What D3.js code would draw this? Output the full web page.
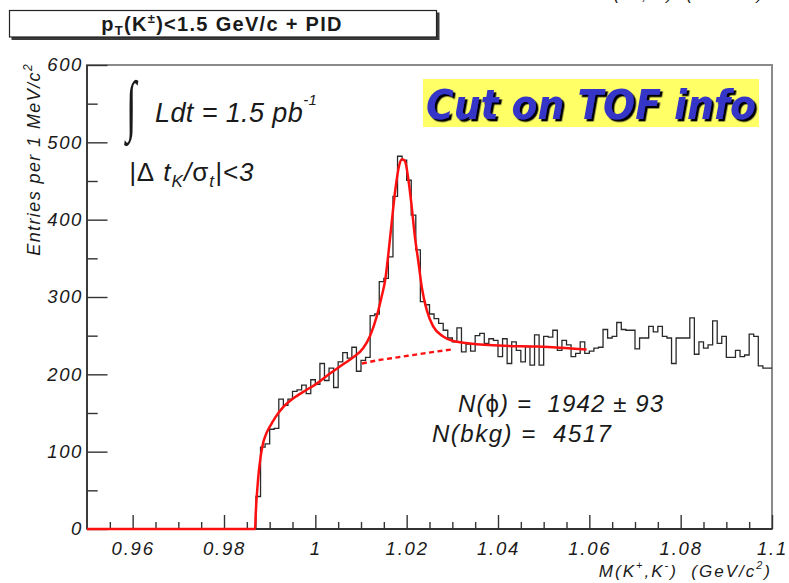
<!DOCTYPE html>
<html>
<head>
<meta charset="utf-8">
<script src="https://cdn.jsdelivr.net/npm/d3@7"></script>
<style>
  html, body { margin: 0; padding: 0; background: #fff; }
  svg { display: block; font-family: "Liberation Sans", Arial, Helvetica, sans-serif; }
</style>
</head>
<body>
<svg id="chart" width="789" height="583"></svg>
<script>
// K+K- invariant mass spectrum, 1 MeV/c^2 bins from 0.950 to 1.100 GeV/c^2
const binLowEdge = 0.950;
const binWidth = 0.001;
const counts = [
  0, 0, 0, 0, 0, 0, 0, 0, 0, 0,
  0, 0, 0, 0, 0, 0, 0, 0, 0, 0,
  0, 0, 0, 0, 0, 0, 0, 0, 0, 0,
  0, 0, 0, 0, 0, 0, 0, 42, 106, 110,
  129, 130, 168, 160, 168, 178, 180, 186, 175, 193,
  187, 214, 192, 208, 183, 216, 228, 221, 235, 204,
  218, 222, 276, 278, 320, 324, 352, 430, 482, 477,
  451, 406, 361, 294, 290, 278, 272, 266, 257, 247,
  242, 260, 229, 239, 230, 250, 253, 240, 246, 244,
  223, 246, 214, 242, 231, 216, 236, 212, 251, 212,
  249, 248, 257, 231, 244, 238, 223, 227, 242, 227,
  230, 234, 235, 258, 247, 249, 267, 258, 257, 257,
  233, 247, 247, 262, 255, 262, 249, 247, 214, 247,
  247, 247, 273, 226, 242, 234, 238, 269, 240, 249,
  222, 222, 231, 223, 225, 252, 249, 211, 208, 208
];

// fitted signal + background curve
const fitMass = [
  0.9500, 0.9868, 0.98695, 0.9871, 0.9873, 0.98755, 0.9879, 0.9882, 0.9886, 0.9891,
  0.9897, 0.9904, 0.9912, 0.9930, 0.9952, 0.9981, 1.0003, 1.0032, 1.0061, 1.0083,
  1.0105, 1.0120, 1.0134, 1.0145, 1.0153, 1.0160, 1.0167, 1.0175, 1.0184, 1.0190,
  1.0196, 1.0204, 1.0211, 1.0218, 1.0226, 1.0233, 1.0244, 1.0258, 1.0280, 1.0302,
  1.0339, 1.0412, 1.0485, 1.0536, 1.0594
];
const fitValue = [
  0, 0, 20, 36, 52, 70, 88, 100, 112, 121,
  129, 136, 144, 158, 169, 180, 188, 201, 213, 222,
  234, 250, 274, 300, 322, 356, 395, 438, 471, 478,
  476, 451, 417, 378, 344, 313, 283, 262, 249, 243,
  240, 237, 236, 234.5, 232
];

// background component under the peak
const bkgMass = [1.0102, 1.0140, 1.0180, 1.0220, 1.0260, 1.0302];
const bkgValue = [214, 218.5, 222, 225.5, 229, 232.4];

const xTickValues = [0.96, 0.98, 1.00, 1.02, 1.04, 1.06, 1.08, 1.10];
const xTickLabels = ["0.96", "0.98", "1", "1.02", "1.04", "1.06", "1.08", "1.1"];
const yTickValues = [0, 100, 200, 300, 400, 500, 600];
const yTickLabels = ["0", "100", "200", "300", "400", "500", "600"];

const nPhi = "1942";
const nPhiErr = "93";
const nBkg = "4517";

const svg = d3.select("#chart");
const W = 789, H = 583;
svg.append("rect").attr("width", W).attr("height", H).attr("fill", "#fff");

const defs = svg.append("defs");
const shadow = defs.append("filter").attr("id", "labelShadow")
  .attr("x", "-5%").attr("y", "-20%").attr("width", "115%").attr("height", "150%");
shadow.append("feDropShadow")
  .attr("dx", 2.4).attr("dy", 2.4).attr("stdDeviation", 0.4)
  .attr("flood-color", "#000").attr("flood-opacity", 1);

const plot = { left: 87, right: 772, top: 65, bottom: 529 };
const x = d3.scaleLinear().domain([0.95, 1.10]).range([plot.left, plot.right]);
const y = d3.scaleLinear().domain([0, 600]).range([plot.bottom, plot.top]);

const ink = "#1a1a1a";

// frame
svg.append("rect")
  .attr("x", plot.left).attr("y", plot.top)
  .attr("width", plot.right - plot.left).attr("height", plot.bottom - plot.top)
  .attr("fill", "none").attr("stroke", "#8a8a8a").attr("stroke-width", 2);

// axes
function styleAxis(g) {
  g.attr("font-family", null).attr("font-size", null);
  g.select(".domain").remove();
  g.selectAll(".tick line").attr("stroke", "#333").attr("stroke-width", 1.4);
}

const yMinorVals = d3.range(50, 600, 100);
svg.append("g").attr("transform", `translate(${plot.left},0)`)
  .call(d3.axisLeft(y).tickValues(yMinorVals).tickFormat("").tickSizeInner(-10.7).tickSizeOuter(0))
  .call(styleAxis);

const yAxis = svg.append("g").attr("transform", `translate(${plot.left},0)`)
  .call(d3.axisLeft(y).tickValues(yTickValues)
    .tickFormat((d, i) => yTickLabels[i])
    .tickSizeInner(-20.5).tickSizeOuter(0).tickPadding(4))
  .call(styleAxis);
yAxis.selectAll("text")
  .attr("fill", ink).attr("font-size", 18.5).attr("font-style", "italic")
  .attr("letter-spacing", 1.6);

const xMinorVals = d3.range(0, 30).map(i => 0.955 + i * 0.005)
  .filter(v => v < 1.1 && Math.abs(((v - 0.96) / 0.02) - Math.round((v - 0.96) / 0.02)) > 0.01);
svg.append("g").attr("transform", `translate(0,${plot.bottom})`)
  .call(d3.axisBottom(x).tickValues(xMinorVals).tickFormat("").tickSizeInner(-7).tickSizeOuter(0))
  .call(styleAxis);

const xAxis = svg.append("g").attr("transform", `translate(0,${plot.bottom})`)
  .call(d3.axisBottom(x).tickValues(xTickValues)
    .tickFormat((d, i) => xTickLabels[i])
    .tickSizeInner(-14).tickSizeOuter(0).tickPadding(13))
  .call(styleAxis);
xAxis.selectAll("text")
  .attr("fill", ink).attr("font-size", 18.5).attr("font-style", "italic")
  .attr("letter-spacing", 1.8);

// axis lines on left and bottom
svg.append("line").attr("x1", plot.left).attr("x2", plot.left)
  .attr("y1", plot.top).attr("y2", plot.bottom)
  .attr("stroke", "#333").attr("stroke-width", 1.8);
svg.append("line").attr("x1", plot.left).attr("x2", plot.right)
  .attr("y1", plot.bottom).attr("y2", plot.bottom)
  .attr("stroke", "#333").attr("stroke-width", 1.8);

// histogram outline
const histPts = counts.map((c, i) => [binLowEdge + i * binWidth, c]);
histPts.push([binLowEdge + counts.length * binWidth, counts[counts.length - 1]]);
svg.append("path")
  .datum(histPts)
  .attr("fill", "none").attr("stroke", "#2a2a2a").attr("stroke-width", 1.3)
  .attr("d", d3.line().x(d => x(d[0])).y(d => y(d[1])).curve(d3.curveStepAfter));

// background component (dashed)
svg.append("path")
  .datum(bkgMass.map((m, i) => [m, bkgValue[i]]))
  .attr("fill", "none").attr("stroke", "#ff1010").attr("stroke-width", 2.4)
  .attr("stroke-dasharray", "5,3.5")
  .attr("d", d3.line().x(d => x(d[0])).y(d => y(d[1])).curve(d3.curveMonotoneX));

// total fit
svg.append("path")
  .datum(fitMass.map((m, i) => [m, fitValue[i]]))
  .attr("fill", "none").attr("stroke", "#ff1010").attr("stroke-width", 2.5)
  .attr("stroke-linejoin", "round")
  .attr("d", d3.line().x(d => x(d[0])).y(d => y(d[1])).curve(d3.curveMonotoneX));

// axis titles
const yTitle = svg.append("text")
  .attr("transform", "translate(40,63) rotate(-90)")
  .attr("text-anchor", "end").attr("font-style", "italic")
  .attr("font-size", 18).attr("letter-spacing", 1.4).attr("fill", ink);
yTitle.append("tspan").text("Entries per 1 MeV/c");
yTitle.append("tspan").attr("font-size", 12).attr("dy", -8).text("2");

const xTitle = svg.append("text")
  .attr("x", 772).attr("y", 577)
  .attr("text-anchor", "end").attr("font-style", "italic")
  .attr("font-size", 17).attr("letter-spacing", 2).attr("fill", ink);
xTitle.append("tspan").text("M(K");
xTitle.append("tspan").attr("font-size", 11).attr("dy", -8).text("+");
xTitle.append("tspan").attr("dy", 8).text(",K");
xTitle.append("tspan").attr("font-size", 11).attr("dy", -8).text("-");
xTitle.append("tspan").attr("dy", 8).text(")\u00a0\u00a0(GeV/c");
xTitle.append("tspan").attr("font-size", 11).attr("dy", -8).text("2");
xTitle.append("tspan").attr("dy", 8).text(")");

// caption of the neighbouring panel, running off the top edge
const topCap = svg.append("text")
  .attr("x", 598).attr("y", 0)
  .attr("font-style", "italic").attr("font-size", 17).attr("letter-spacing", 1.6).attr("fill", ink);
topCap.append("tspan").text("M(K");
topCap.append("tspan").attr("font-size", 11).attr("dy", -8).text("+");
topCap.append("tspan").attr("dy", 8).text(",K");
topCap.append("tspan").attr("font-size", 11).attr("dy", -8).text("-");
topCap.append("tspan").attr("dy", 8).text(")\u00a0\u00a0(GeV/c");
topCap.append("tspan").attr("font-size", 11).attr("dy", -8).text("2");
topCap.append("tspan").attr("dy", 8).text(")");

// title box
svg.append("rect").attr("x", 11.5).attr("y", 12.5).attr("width", 428).attr("height", 27.5).attr("fill", "#3a3a3a");
svg.append("rect").attr("x", 9.5).attr("y", 10.5).attr("width", 427).attr("height", 26.5)
  .attr("fill", "#fff").attr("stroke", "#222").attr("stroke-width", 1.2);
const title = svg.append("text")
  .attr("x", 222).attr("y", 30.5).attr("text-anchor", "middle")
  .attr("font-weight", "bold").attr("font-size", 20).attr("letter-spacing", 1.3).attr("fill", ink);
title.append("tspan").text("p");
title.append("tspan").attr("font-size", 13).attr("dy", 4).text("T");
title.append("tspan").attr("dy", -4).text("(K");
title.append("tspan").attr("font-size", 13).attr("dy", -8).text("\u00b1");
title.append("tspan").attr("dy", 8).text(")<1.5 GeV/c + PID");

// luminosity
svg.append("text")
  .attr("transform", "translate(126,128) scale(0.75,1.35)")
  .attr("font-family", "\"Liberation Serif\", \"DejaVu Serif\", serif")
  .attr("font-size", 50).attr("fill", ink).text("\u222b");
const lumi = svg.append("text").attr("x", 155).attr("y", 122)
  .attr("font-style", "italic").attr("font-size", 27).attr("letter-spacing", 0.4).attr("fill", ink);
lumi.append("tspan").text("Ldt = 1.5 pb");
lumi.append("tspan").attr("font-size", 15).attr("dy", -17).text("-1");

// TOF cut
const cut = svg.append("text").attr("x", 129).attr("y", 181)
  .attr("font-style", "italic").attr("font-size", 26).attr("letter-spacing", 1).attr("fill", ink);
cut.append("tspan").text("|");
cut.append("tspan").attr("font-style", "normal").text("\u0394");
cut.append("tspan").text(" t");
cut.append("tspan").attr("font-size", 17).attr("dy", 6).text("K");
cut.append("tspan").attr("dy", -6).text("/");
cut.append("tspan").attr("font-style", "normal").text("\u03c3");
cut.append("tspan").attr("font-size", 17).attr("dy", 6).text("t");
cut.append("tspan").attr("dy", -6).text("|<3");

// fit yields
const yieldPhi = svg.append("text").attr("x", 458).attr("y", 412)
  .attr("font-style", "italic").attr("font-size", 24).attr("letter-spacing", 1.1).attr("fill", ink);
yieldPhi.append("tspan").text("N(");
yieldPhi.append("tspan").attr("font-style", "normal").text("\u03d5");
yieldPhi.append("tspan").text(`) =\u00a0 ${nPhi} `);
yieldPhi.append("tspan").attr("font-style", "normal").text("\u00b1");
yieldPhi.append("tspan").text(` ${nPhiErr}`);
svg.append("text").attr("x", 432).attr("y", 442)
  .attr("font-style", "italic").attr("font-size", 24).attr("letter-spacing", 1.5).attr("fill", ink)
  .text(`N(bkg) =\u00a0 ${nBkg}`);

// "Cut on TOF info" label
svg.append("rect").attr("x", 423).attr("y", 79).attr("width", 336).attr("height", 48).attr("fill", "#ffff66");
const tofFont = "\"Comic Sans MS\", \"DejaVu Sans\", sans-serif";
svg.append("text").attr("x", 426).attr("y", 119)
  .attr("font-family", tofFont).attr("font-weight", "bold").attr("font-style", "italic")
  .attr("font-size", 40).attr("fill", "#3535c8")
  .attr("textLength", 330).attr("lengthAdjust", "spacingAndGlyphs")
  .attr("filter", "url(#labelShadow)")
  .text("Cut on TOF info");
</script>
</body>
</html>
